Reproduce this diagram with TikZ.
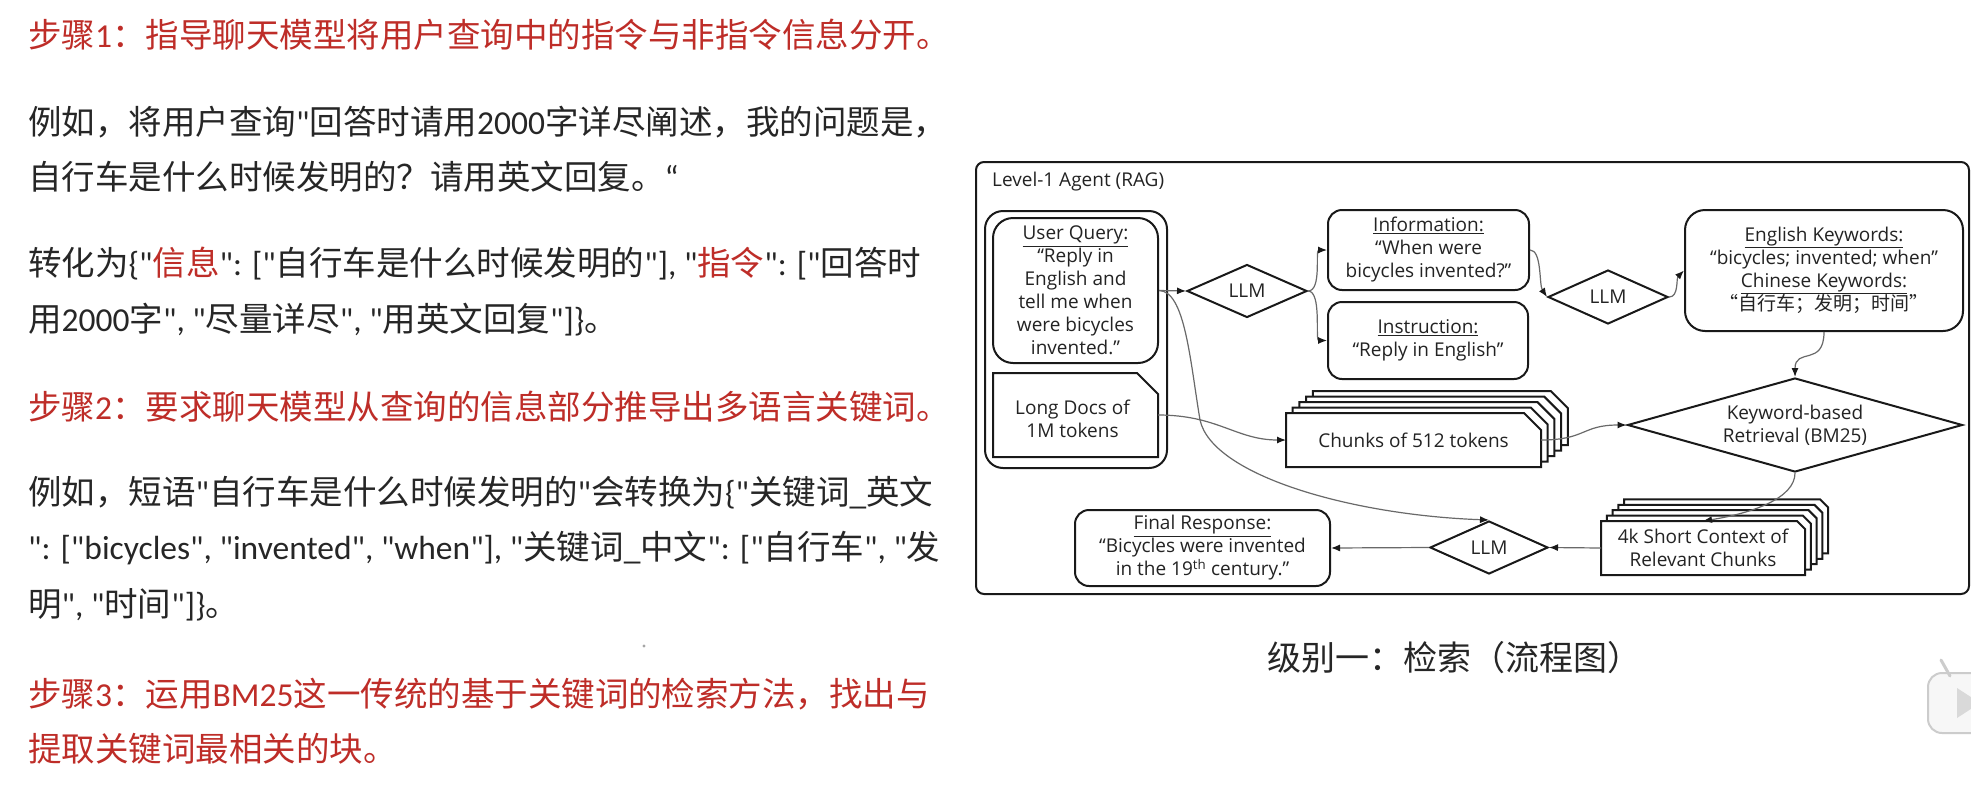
\documentclass[tikz,border=0pt]{standalone}
\usepackage{fontspec}
\setmainfont{Open Sans}
\newfontfamily\cjk{Noto Sans CJK SC}
\newfontfamily\lat{Carlito}
\usetikzlibrary{shapes.geometric,arrows.meta,calc}
\definecolor{redtxt}{RGB}{190,45,40}
\definecolor{blktxt}{RGB}{38,38,38}
\definecolor{dtxt}{RGB}{35,35,35}
\definecolor{lnc}{RGB}{25,25,25}
\definecolor{arrc}{RGB}{105,105,105}
\newcommand{\dfont}{\fontsize{19}{23}\selectfont}
\newcommand{\lfont}{\cjk\fontsize{33.5}{40}\selectfont}
\newcommand{\rtx}[1]{\textcolor{redtxt}{#1}}
\tikzset{
  rbox/.style={draw=lnc, line width=2pt, rounded corners=#1, inner sep=0pt, align=center, font=\dfont, text=dtxt},
  rbox/.default=14pt,
  plain/.style={inner sep=0pt, align=center, font=\dfont, text=dtxt},
  dmd/.style={diamond, draw=lnc, line width=2pt, inner sep=0pt, align=center, font=\dfont, text=dtxt, aspect=2.3},
  layer/.style={draw=lnc, line width=2pt, fill=white, line join=miter},
  conn/.style={draw=arrc, line width=1.2pt, -{Latex[length=9pt,width=7pt,color=lnc]}},
  ltxt/.style={anchor=base west, inner sep=0pt, font=\lfont, text=blktxt},
  ltred/.style={ltxt, text=redtxt},
  phantombox/.style={inner sep=0pt, outer sep=0pt},
}
\begin{document}
\begin{tikzpicture}[x=1pt,y=-1pt]
\useasboundingbox (0,0) rectangle (1971,801);
\fill[white] (0,0) rectangle (1971,801);

% ---------- left text ----------
\node[ltred] (l1) at (28,47.5) {步骤{\lat 1}：指导聊天模型将用户查询中的指令与非指令信息分开。};
\node[ltxt] (l2) at (28,134) {例如，将用户查询{\lat "}回答时请用{\lat 2000}字详尽阐述，我的问题是，};
\node[ltxt] (l3) at (28,189.5) {自行车是什么时候发明的？请用英文回复。{\lat “}};
\node[ltxt] (l4) at (28,275.5) {转化为{\lat \{"}\rtx{信息}{\lat ": ["}自行车是什么时候发明的{\lat "], "}\rtx{指令}{\lat ": ["}回答时};
\node[ltxt] (l5) at (28,331.5) {用{\lat 2000}字{\lat ", "}尽量详尽{\lat ", "}用英文回复{\lat "]\}}。};
\node[ltred] (l6) at (28,419.5) {步骤{\lat 2}：要求聊天模型从查询的信息部分推导出多语言关键词。};
\node[ltxt] (l7) at (28,504) {例如，短语{\lat "}自行车是什么时候发明的{\lat "}会转换为{\lat \{"}关键词{\lat \_}英文};
\node[ltxt] (l8) at (28,559) {{\lat ": ["bicycles", "invented", "when"], "}关键词{\lat \_}中文{\lat ": ["}自行车{\lat ", "}发};
\node[ltxt] (l9) at (28,616) {明{\lat ", "}时间{\lat "]\}}。};
\node[ltred] (l10) at (28,706) {步骤{\lat 3}：运用{\lat BM25}这一传统的基于关键词的检索方法，找出与};
\node[ltred] (l11) at (28,761) {提取关键词最相关的块。};
\fill[gray!70] (644,646) circle (1.6);

% ---------- caption ----------
\node[anchor=base west, inner sep=0pt, font=\cjk\fontsize{34}{40}\selectfont, text=blktxt] (cap) at (1267,670) {级别一：检索（流程图）};

% ---------- diagram ----------
\node[draw=lnc, line width=2pt, rounded corners=8pt, minimum width=993pt, minimum height=432pt, inner sep=0pt] (outer) at (1472.5,378) {};
\node[plain, anchor=west] (title) at (992,182) {Level-1 Agent (RAG)};

\node[rbox=18pt, minimum width=182pt, minimum height=257pt] (grp) at (1076,339.5) {};
\node[rbox=20pt, minimum width=165pt, minimum height=145pt] (uq) at (1075.5,290.5)
  {\underline{User Query:}\\“Reply in\\English and\\tell me when\\were bicycles\\invented.”};

\path node[phantombox, minimum width=165pt, minimum height=84pt] (ldb) at (1075.5,415) {};
\draw[layer] (ldb.south west) -- (ldb.north west) -- ($(ldb.north east)+(-21,0)$) -- ($(ldb.north east)+(0,21)$) -- (ldb.south east) -- cycle;
\node[plain] (ld) at ($(ldb.center)+(-3,4)$) {Long Docs of\\1M tokens};

\node[dmd, minimum width=120pt, minimum height=53pt] (llm1) at (1247,291) {LLM};

\node[rbox=14pt, minimum width=201pt, minimum height=80pt] (info) at (1428.5,250)
  {\underline{Information:}\\“When were\\bicycles invented?”};
\node[rbox=14pt, minimum width=200pt, minimum height=77pt] (instr) at (1428,340.5)
  {\underline{Instruction:}\\“Reply in English”};

\node[dmd, minimum width=120pt, minimum height=54pt] (llm2) at (1608,297) {LLM};

\node[rbox=20pt, minimum width=278pt, minimum height=121pt] (kw) at (1824,270.5)
  {\underline{English Keywords:}\\“bicycles; invented; when”\\\underline{Chinese Keywords:}\\{\cjk “自行车；发明；时间”}};

\node[dmd, aspect=3.5, minimum width=335pt, minimum height=94pt] (ret) at (1795,425) {Keyword-based\\Retrieval (BM25)};

% chunks stack
\path node[phantombox, minimum width=255pt, minimum height=54pt] (chb) at (1413.5,440) {};
\foreach \k in {4,3,2,1} {
  \draw[layer] ($(chb.south west)+(6.7*\k,-5.5*\k)$) -- ($(chb.north west)+(6.7*\k,-5.5*\k)$)
    -- ($(chb.north east)+(6.7*\k-17,-5.5*\k)$) -- ($(chb.north east)+(6.7*\k,-5.5*\k+17)$)
    -- ($(chb.south east)+(6.7*\k,-5.5*\k)$) -- cycle;
}
\draw[layer] (chb.south west) -- (chb.north west) -- ($(chb.north east)+(-17,0)$) -- ($(chb.north east)+(0,17)$) -- (chb.south east) -- cycle;
\node[plain] (cht) at (chb.center) {Chunks of 512 tokens};

% short context stack
\path node[phantombox, minimum width=204pt, minimum height=54pt] (ctxb) at (1703,548) {};
\foreach \k in {4,3,2,1} {
  \draw[layer] ($(ctxb.south west)+(5.8*\k,-5.4*\k)$) -- ($(ctxb.north west)+(5.8*\k,-5.4*\k)$)
    -- ($(ctxb.north east)+(5.8*\k-8,-5.4*\k)$) -- ($(ctxb.north east)+(5.8*\k,-5.4*\k+8)$)
    -- ($(ctxb.south east)+(5.8*\k,-5.4*\k)$) -- cycle;
}
\draw[layer] (ctxb.south west) -- (ctxb.north west) -- ($(ctxb.north east)+(-8,0)$) -- ($(ctxb.north east)+(0,8)$) -- (ctxb.south east) -- cycle;
\node[plain] (ctxt) at (ctxb.center) {4k Short Context of\\Relevant Chunks};

\node[dmd, minimum width=118pt, minimum height=53pt] (llm3) at (1489,547.5) {LLM};

\node[rbox=14pt, minimum width=255pt, minimum height=76pt] (fr) at (1202.5,548)
  {\underline{Final Response:}\\“Bicycles were invented\\in the 19\textsuperscript{th} century.”};

% ---------- connectors ----------
\draw[conn] (uq.east) -- (llm1.west);
\draw[conn] (llm1.east) .. controls +(14,0) and +(-12,0) .. (info.west);
\draw[conn] (llm1.east) .. controls +(14,0) and +(-12,0) .. (instr.west);
\draw[conn] (uq.east) .. controls (1185,291) and (1190,360) .. (1200,420) .. controls (1212,475) and (1350,515) .. (llm3.north);
\draw[conn] (ldb.east) .. controls +(60,0) and +(-50,0) .. (chb.west);
\draw[conn] (info.east) .. controls +(12,0) and +(-8,-12) .. (llm2.west);
\draw[conn] (llm2.east) .. controls +(10,0) and +(-8,8) .. (kw.west);
\draw[conn] (kw.south) .. controls +(0,35) and +(0,-30) .. (ret.north);
\draw[conn] (chb.east) .. controls +(45,0) and +(-45,0) .. (ret.west);
\draw[conn] (ret.south) .. controls +(0,25) and +(50,-8) .. (ctxb.north);
\draw[conn] (ctxb.west) -- (llm3.east);
\draw[conn] (llm3.west) -- (fr.east);

% ---------- corner player icon ----------
\draw[gray!40, fill=gray!6, line width=2pt, rounded corners=14pt] (1928,673) rectangle (2000,733);
\draw[gray!40, line width=3pt, line cap=round] (1950,676) -- (1941,660);
\fill[gray!30] (1957,688) -- (1957,718) -- (1980,703) -- cycle;
\end{tikzpicture}
\end{document}
